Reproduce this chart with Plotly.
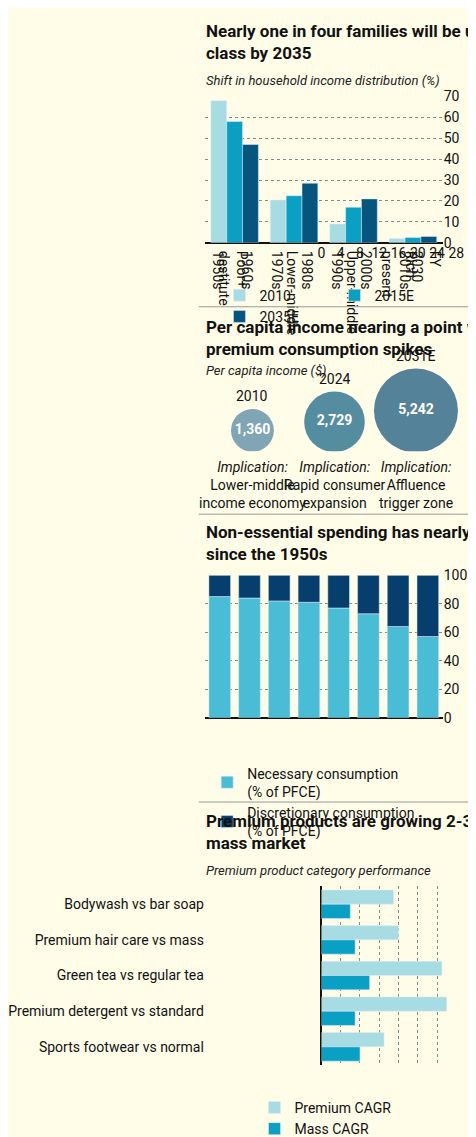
import plotly.graph_objects as go
import numpy as np

W, H = 476, 1137
BG = "#fffde8"
FONT = "Liberation Sans Narrow, Roboto, sans-serif"

# Chart 1
dist_cats = ["Poor+<br>destitute", "Lower-middle", "Upper-middle", "Rich"]
dist_2010 = [68, 20.5, 9, 2]
dist_2015 = [58, 22.5, 17, 2.5]
dist_2035 = [47, 28.5, 21, 3]
dist_ticks = [0, 10, 20, 30, 40, 50, 60, 70]

# Chart 2
inc_years = ["2010", "2024", "2031E"]
inc_values = [1360, 2729, 5242]
inc_labels = ["1,360", "2,729", "5,242"]
inc_impl = ["Lower-middle<br>income economy", "Rapid consumer<br>expansion", "Affluence<br>trigger zone"]

# Chart 3
dec_cats = ["1950s", "1960s", "1970s", "1980s", "1990s", "2000s", "2010s -<br>present", "FY<br>2030"]
necessary = [85, 84, 82, 81, 77, 73, 64, 57]
discretionary = [15, 16, 18, 19, 23, 27, 36, 43]

# Chart 4
prod_cats = ["Bodywash vs bar soap", "Premium hair care vs mass", "Green tea vs regular tea",
             "Premium detergent vs standard", "Sports footwear vs normal"]
premium_cagr = [15, 16, 25, 26, 13]
mass_cagr = [6, 7, 10, 7, 8]

def py(px):
    return 1 - px / H

def pxx(px):
    return px / W

fig = go.Figure()
C1, C2, C3 = "#a8dce3", "#0aa0c4", "#06557f"

for name, vals, col in [("2010", dist_2010, C1), ("2015E", dist_2015, C2), ("2035E", dist_2035, C3)]:
    fig.add_bar(x=dist_cats, y=vals, name=name, marker_color=col, xaxis="x", yaxis="y", legend="legend")

# bubbles
maxd = 84
diam = [maxd * np.sqrt(v / max(inc_values)) for v in inc_values]
bottom_px = 449
bx = [100, 238, 375]
fig.add_scatter(x=bx, y=[d / 2 for d in diam], mode="markers+text",
                marker=dict(size=diam, color=["#4a7fa0", "#0d5c82", "#0b4f78"], line=dict(width=0)),
                text=["<b>%s</b>" % l for l in inc_labels], textfont=dict(color="white", size=14, family=FONT),
                textposition="middle center", xaxis="x2", yaxis="y2", showlegend=False, hoverinfo="skip")

fig.add_bar(x=dec_cats, y=necessary, name="Necessary consumption<br>(% of PFCE)", marker_color="#49bcd6",
            xaxis="x3", yaxis="y3", legend="legend2", width=0.73, offset=-0.365)
fig.add_bar(x=dec_cats, y=discretionary, base=necessary, name="Discretionary consumption<br>(% of PFCE)",
            marker_color="#063f6e", xaxis="x3", yaxis="y3", legend="legend2", width=0.73, offset=-0.365)

fig.add_bar(y=prod_cats, x=premium_cagr, orientation="h", name="Premium CAGR", marker_color=C1,
            xaxis="x4", yaxis="y4", legend="legend3")
fig.add_bar(y=prod_cats, x=mass_cagr, orientation="h", name="Mass CAGR", marker_color=C2,
            xaxis="x4", yaxis="y4", legend="legend3")

grid = dict(showgrid=True, gridcolor="#888", griddash="dot", gridwidth=1)
tf = dict(family=FONT, size=14, color="#111")

fig.update_layout(
    width=W, height=H, margin=dict(l=0, r=0, t=0, b=0), paper_bgcolor=BG, plot_bgcolor=BG,
    font=dict(family=FONT, size=14, color="#111"), barmode="group", bargap=0.2, bargroupgap=0.0,
    showlegend=True,
    xaxis=dict(domain=[pxx(20), pxx(420)], tickfont=tf, showline=False, ticks=""),
    yaxis=dict(domain=[py(234), py(83)], range=[0, 70], side="right", tickvals=dist_ticks, tickfont=tf,
               zeroline=True, zerolinecolor="#111", zerolinewidth=1.5, **grid),
    xaxis2=dict(domain=[0, 1], range=[0, W], visible=False),
    yaxis2=dict(domain=[py(bottom_px), py(bottom_px - 100)], range=[0, 100], visible=False),
    xaxis3=dict(domain=[pxx(20), pxx(420)], tickfont=tf, ticks=""),
    yaxis3=dict(domain=[py(724), py(577)], range=[0, 100], side="right", tickvals=[0, 20, 40, 60, 80, 100],
                tickfont=tf, zeroline=True, zerolinecolor="#111", zerolinewidth=1.5, **grid),
    xaxis4=dict(domain=[pxx(216), pxx(443)], range=[0, 28], tickvals=[0, 4, 8, 12, 16, 20, 24, 28],
                tickfont=tf, zeroline=True, zerolinecolor="#111", zerolinewidth=1.5, **grid),
    yaxis4=dict(domain=[py(1082), py(898)], autorange="reversed", tickfont=tf, ticks=""),
    legend=dict(orientation="h", x=0.5, xanchor="center", y=py(272), yanchor="top", font=tf,
                bgcolor="rgba(0,0,0,0)", entrywidth=70),
    legend2=dict(orientation="h", x=0.05, xanchor="left", y=py(765), yanchor="top", font=tf,
                 bgcolor="rgba(0,0,0,0)", entrywidth=200),
    legend3=dict(orientation="h", x=0.5, xanchor="center", y=py(1110), yanchor="top", font=tf,
                 bgcolor="rgba(0,0,0,0)", entrywidth=115),
)

ann = []
def title(txt, ypx):
    ann.append(dict(text="<b>%s</b>" % txt, x=pxx(18), y=py(ypx), xref="paper", yref="paper",
                    xanchor="left", yanchor="top", showarrow=False, align="left",
                    font=dict(family="Roboto, sans-serif", size=17, color="#111")))
def sub(txt, ypx):
    ann.append(dict(text="<i>%s</i>" % txt, x=pxx(18), y=py(ypx), xref="paper", yref="paper",
                    xanchor="left", yanchor="top", showarrow=False,
                    font=dict(family=FONT, size=13, color="#222")))

title("Nearly one in four families will be upper-middle<br>class by 2035", 3)
sub("Shift in household income distribution (%)", 57)
title("Per capita income nearing a point where<br>premium consumption spikes", 308)
sub("Per capita income ($)", 356)
title("Non-essential spending has nearly tripled<br>since the 1950s", 520)
title("Premium products are growing 2-3x faster than<br>mass market", 818)
sub("Premium product category performance", 872)

for i in range(3):
    top_px = bottom_px - diam[i]
    ann.append(dict(text=inc_years[i], x=pxx(bx[i]), y=py(top_px - 4), xref="paper", yref="paper",
                    xanchor="center", yanchor="bottom", showarrow=False, font=tf))
    ann.append(dict(text="<i>Implication:</i><br>" + inc_impl[i], x=pxx(bx[i]), y=py(455), xref="paper",
                    yref="paper", xanchor="center", yanchor="top", showarrow=False, font=tf))

shapes = [dict(type="line", xref="paper", yref="paper", x0=0.02, x1=0.98, y0=py(y), y1=py(y),
               line=dict(color="#999", width=1)) for y in (300, 514, 811)]
fig.update_layout(annotations=ann, shapes=shapes)
fig.write_html("out.html")
